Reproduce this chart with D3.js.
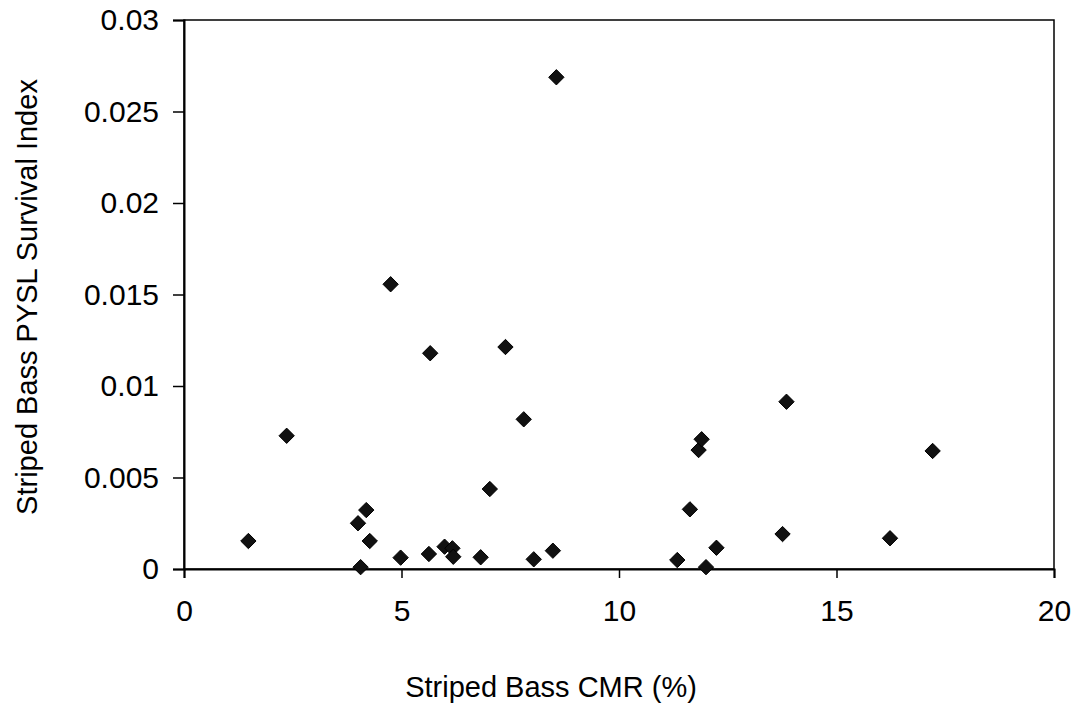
<!DOCTYPE html>
<html><head><meta charset="utf-8">
<script src="https://cdn.jsdelivr.net/npm/d3@7"></script>
<style>body{margin:0;background:#fff}svg{display:block}text{font-family:"Liberation Sans",Arial,sans-serif;fill:#000}</style>
</head><body><svg id="c" width="1078" height="706"></svg>
<script>
const cmr = [1.48,2.36,4.00,4.06,4.19,4.27,4.75,4.98,5.63,5.66,5.99,6.17,6.19,6.82,7.03,7.39,7.81,8.04,8.48,8.56,11.34,11.63,11.83,11.90,12.00,12.24,13.76,13.85,16.23,17.21];
const survival = [0.00153,0.00728,0.0025,0.0001,0.00322,0.00153,0.01556,0.00062,0.00082,0.01179,0.00122,0.00113,0.00067,0.00064,0.00437,0.01213,0.00818,0.00053,0.0010,0.02687,0.00049,0.00326,0.0065,0.00709,0.0001,0.00116,0.00191,0.00914,0.00168,0.00645];
const xTicks = [0,5,10,15,20];
const yTicks = [0,0.005,0.01,0.015,0.02,0.025,0.03];
const xTitle = "Striped Bass CMR (%)";
const yTitle = "Striped Bass PYSL Survival  Index";

const svg = d3.select("#c");
const L=184,R=1054,T=20,B=569;
const x = d3.scaleLinear().domain([0,20]).range([L,R]);
const y = d3.scaleLinear().domain([0,0.03]).range([B,T]);

svg.append("rect").attr("x",L).attr("y",T).attr("width",R-L).attr("height",B-T)
  .attr("fill","none").attr("stroke","#000").attr("stroke-width",1.5);

const xa = svg.append("g").attr("transform",`translate(0,${B})`)
  .call(d3.axisBottom(x).tickValues(xTicks).tickSize(9).tickPadding(22).tickFormat(d3.format("d")));
const ya = svg.append("g").attr("transform",`translate(${L},0)`)
  .call(d3.axisLeft(y).tickValues(yTicks).tickSize(11).tickPadding(14).tickFormat(d=>d===0?"0":String(+d.toFixed(3))));
[xa,ya].forEach(g=>{
  g.attr("font-size",null).attr("font-family",null);
  g.select(".domain").attr("stroke","#000").attr("stroke-width",2);
  g.selectAll(".tick line").attr("stroke","#000").attr("stroke-width",1.5);
  g.selectAll("text").style("font-size","30px").attr("fill","#000");
});

svg.append("text").attr("x",551).attr("y",697).attr("text-anchor","middle")
  .style("font-size","29px").text(xTitle);
svg.append("text").attr("transform","translate(37,297) rotate(-90)").attr("text-anchor","middle")
  .style("font-size","29px").text(yTitle);

const sym = d3.symbol().type(d3.symbolDiamond2).size(150);
svg.append("g").selectAll("path").data(cmr.map((v,i)=>[v,survival[i]])).join("path")
  .attr("transform",d=>`translate(${x(d[0])},${y(d[1])})`)
  .attr("d",sym).attr("fill","#111").attr("stroke","#000").attr("stroke-width",1);
</script></body></html>
